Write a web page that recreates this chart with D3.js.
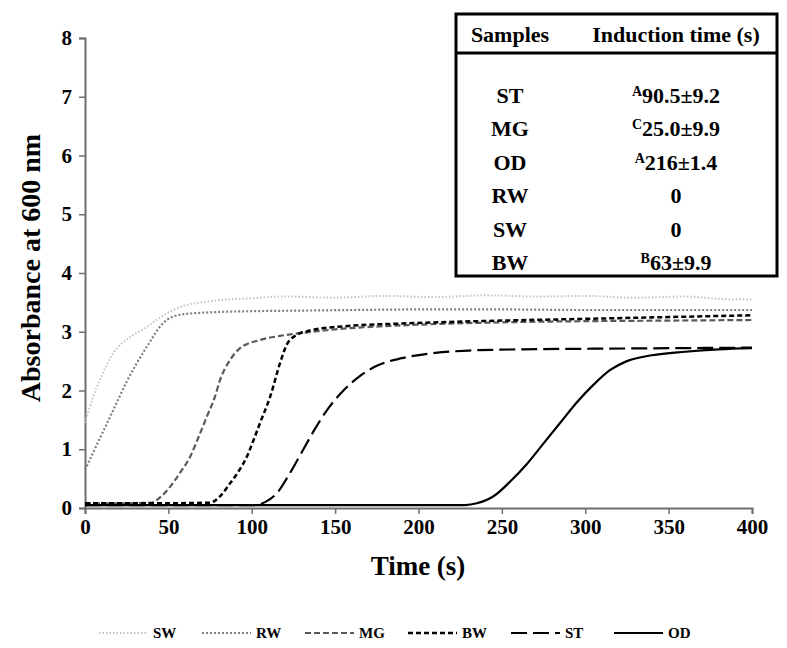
<!DOCTYPE html>
<html><head><meta charset="utf-8">
<script src="https://cdn.jsdelivr.net/npm/d3@7"></script>
<style>body{margin:0;background:#fff}svg{display:block}</style>
</head><body>
<svg id="c" width="787" height="648"></svg>
<script>
// ---- data ----
const xTicks = [0,50,100,150,200,250,300,350,400];
const yTicks = [0,1,2,3,4,5,6,7,8];
const seriesNames = ["SW","RW","MG","BW","ST","OD"];

const swT = [0,5,10,17,25,37,47,57,75,100,120,150,180,210,240,270,300,330,360,380,400];
const swV = [1.45,1.9,2.25,2.64,2.87,3.08,3.28,3.42,3.52,3.57,3.6,3.58,3.61,3.59,3.62,3.6,3.61,3.58,3.6,3.56,3.55];
const rwT = [0,5,10,17,25,37,47,57,75,100,130,160,200,250,300,350,400];
const rwV = [0.65,0.95,1.25,1.67,2.15,2.74,3.15,3.29,3.33,3.35,3.36,3.37,3.38,3.38,3.37,3.37,3.37];
const mgT = [0,20,40,45,51,57,63,68,73,78,81,87,93,105,117,130,150,200,250,300,350,400];
const mgV = [0.08,0.08,0.09,0.18,0.36,0.6,0.87,1.2,1.55,1.9,2.18,2.52,2.72,2.86,2.93,2.98,3.04,3.12,3.16,3.18,3.19,3.2];
const bwT = [0,40,75,81,87,92,97,101,105,111,117,121,126,135,150,200,250,300,350,400];
const bwV = [0.08,0.08,0.09,0.2,0.42,0.62,0.87,1.15,1.45,1.89,2.47,2.78,2.93,3.02,3.08,3.15,3.19,3.22,3.25,3.28];
const stT = [0,50,102,108,115,122,130,138,146,155,165,175,190,210,230,260,300,350,400];
const stV = [0.05,0.05,0.05,0.1,0.25,0.55,0.95,1.35,1.7,2.0,2.25,2.42,2.55,2.64,2.68,2.7,2.71,2.72,2.73];
const odT = [0,100,200,228,235,245,255,265,275,285,295,305,315,325,340,360,380,400];
const odV = [0.05,0.05,0.05,0.05,0.08,0.2,0.45,0.75,1.1,1.45,1.8,2.1,2.35,2.5,2.6,2.66,2.7,2.72];

const tableHead = ["Samples","Induction time (s)"];
const tableSamples = ["ST","MG","OD","RW","SW","BW"];
const tableSup = ["A","C","A","","","B"];
const tableVals = ["90.5±9.2","25.0±9.9","216±1.4","0","0","63±9.9"];

// ---- layout ----
const svg = d3.select("#c");
const font = "'Liberation Serif','Times New Roman',serif";
const x = d3.scaleLinear().domain([0,400]).range([85,752]);
const y = d3.scaleLinear().domain([0,8]).range([508,38]);

const styles = {
  SW:{color:"#c4c4c4",dash:"1.5,2",w:2},
  RW:{color:"#7f7f7f",dash:"2,2",w:2.2},
  MG:{color:"#595959",dash:"6,3",w:2.2},
  BW:{color:"#000",dash:"5,3",w:2.5},
  ST:{color:"#000",dash:"16,6",w:2.2},
  OD:{color:"#000",dash:null,w:2.2}
};
const data = {
  SW:swT.map((t,i)=>[t,swV[i]]),
  RW:rwT.map((t,i)=>[t,rwV[i]]),
  MG:mgT.map((t,i)=>[t,mgV[i]]),
  BW:bwT.map((t,i)=>[t,bwV[i]]),
  ST:stT.map((t,i)=>[t,stV[i]]),
  OD:odT.map((t,i)=>[t,odV[i]])
};

// axes
const axisColor = "#6e6e6e";
const gx = svg.append("g").attr("transform",`translate(0,${y(0)})`)
  .call(d3.axisBottom(x).tickValues(xTicks).tickSize(6).tickPadding(5));
const gy = svg.append("g").attr("transform",`translate(${x(0)},0)`)
  .call(d3.axisLeft(y).tickValues(yTicks).tickSize(6).tickPadding(7));
[gx,gy].forEach(g=>{
  g.select(".domain").attr("stroke",axisColor).attr("stroke-width",2);
  g.selectAll(".tick line").attr("stroke",axisColor).attr("stroke-width",1.5);
  g.selectAll(".tick text").attr("fill","#000").style("font-family",font)
    .style("font-size","21px").style("font-weight","bold");
});

// lines
const line = d3.line().x(d=>x(d[0])).y(d=>y(d[1])).curve(d3.curveMonotoneX);
seriesNames.forEach(n=>{
  const s = styles[n];
  svg.append("path").datum(data[n]).attr("d",line)
    .attr("fill","none").attr("stroke",s.color).attr("stroke-width",s.w)
    .attr("stroke-dasharray",s.dash);
});

// axis titles
svg.append("text").attr("x",418).attr("y",575).attr("text-anchor","middle")
  .style("font-family",font).style("font-size","27px").style("font-weight","bold").text("Time (s)");
svg.append("text").attr("transform","translate(40,268) rotate(-90)").attr("text-anchor","middle")
  .style("font-family",font).style("font-size","28px").style("font-weight","bold").text("Absorbance at 600 nm");

// table
const tb = svg.append("g");
tb.append("rect").attr("x",456).attr("y",14).attr("width",321).attr("height",262)
  .attr("fill","#fff").attr("stroke","#000").attr("stroke-width",3);
tb.append("line").attr("x1",456).attr("x2",777).attr("y1",53).attr("y2",53)
  .attr("stroke","#000").attr("stroke-width",3);
const col1 = 510, col2 = 676;
const tsize = "22px";
tb.append("text").attr("x",col1).attr("y",42).attr("text-anchor","middle")
  .style("font-family",font).style("font-size",tsize).style("font-weight","bold").text(tableHead[0]);
tb.append("text").attr("x",col2).attr("y",42).attr("text-anchor","middle")
  .style("font-family",font).style("font-size",tsize).style("font-weight","bold").text(tableHead[1]);
const rowY = d3.scalePoint().domain(tableSamples).range([103,270]);
tableSamples.forEach((s,i)=>{
  tb.append("text").attr("x",col1).attr("y",rowY(s)).attr("text-anchor","middle")
    .style("font-family",font).style("font-size",tsize).style("font-weight","bold").text(s);
  const t = tb.append("text").attr("x",col2).attr("y",rowY(s)).attr("text-anchor","middle")
    .style("font-family",font).style("font-size",tsize).style("font-weight","bold");
  if (tableSup[i]) t.append("tspan").attr("dy",-7).style("font-size","14px").text(tableSup[i]);
  t.append("tspan").attr("dy",tableSup[i]?7:0).text(tableVals[i]);
});

// legend
const legX = d3.scalePoint().domain(seriesNames).range([99,614]);
seriesNames.forEach(n=>{
  const s = styles[n];
  const lx = legX(n);
  svg.append("line").attr("x1",lx).attr("x2",lx+49).attr("y1",633).attr("y2",633)
    .attr("stroke",s.color).attr("stroke-width",s.w).attr("stroke-dasharray",s.dash);
  svg.append("text").attr("x",lx+54).attr("y",638).style("font-family",font)
    .style("font-size","15px").style("font-weight","bold").text(n);
});
</script>
</body></html>
